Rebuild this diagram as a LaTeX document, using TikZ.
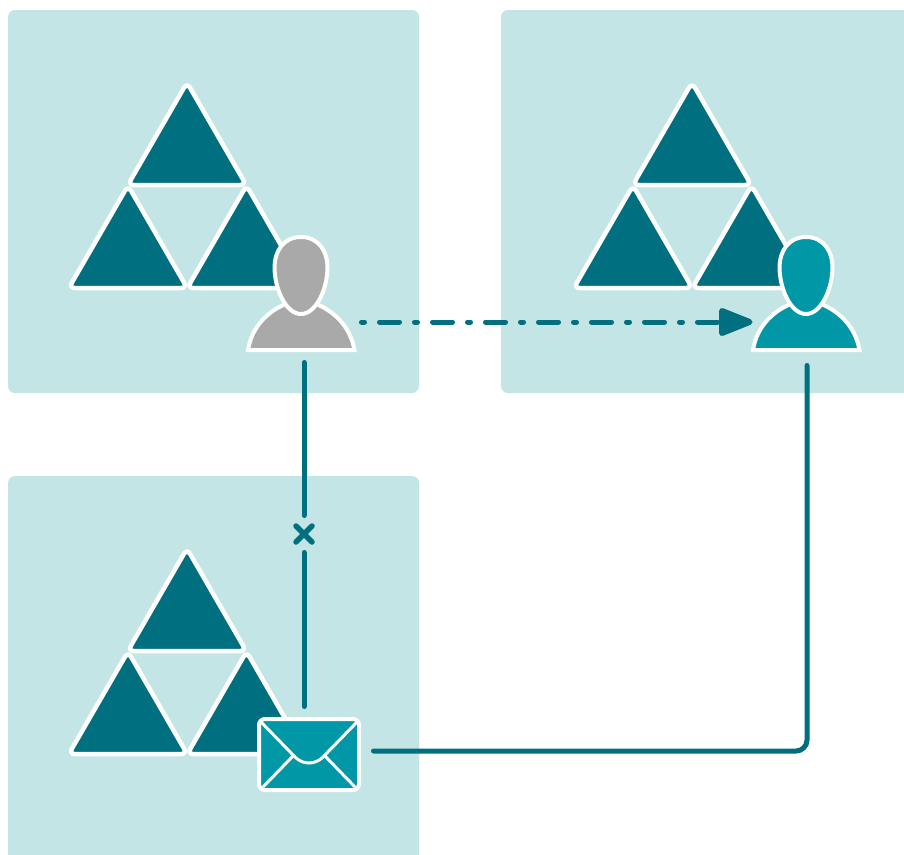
\documentclass[tikz,border=0pt]{standalone}
\definecolor{panel}{HTML}{C4E5E5}
\definecolor{deep}{HTML}{006F7F}
\definecolor{bright}{HTML}{0097A7}
\definecolor{greyuser}{HTML}{A9A9A9}
\tikzset{
  panelbox/.style={fill=panel,rounded corners=7pt,draw=none},
  tri/.style={fill=deep,draw=white,line width=4.5pt,line join=round,rounded corners=6pt},
  usershape/.style={draw=white,line width=4pt,line join=miter},
  link/.style={draw=deep,line width=5pt,line cap=round},
  anchorbox/.style={inner sep=0pt,minimum width=#1,minimum height=#1},
  every picture/.style={x=1pt,y=-1pt}
}
\newcommand{\triad}[2]{%
  \begin{scope}[shift={(#1,#2)}]
    \path[tri] (187,82.5) -- (246.2,185) -- (127.8,185) -- cycle;
    \path[tri] (128,185.5) -- (187.2,288) -- (68.8,288) -- cycle;
    \path[tri] (246.5,185.5) -- (305.7,288) -- (187.3,288) -- cycle;
  \end{scope}}
\newcommand{\usericon}[3]{%
  \begin{scope}[shift={(#1,#2)}]
    \path[usershape,fill=#3] (248,350) .. controls (252,325) and (270,309) .. (291,302)
       -- (311,302) .. controls (332,309) and (350,325) .. (354.5,350) -- cycle;
    \path[usershape,fill=#3] (301,237) .. controls (319,237) and (327.5,252) .. (327.5,267)
       .. controls (327.5,289) and (316,314) .. (301,314)
       .. controls (286,314) and (274.5,289) .. (274.5,267)
       .. controls (274.5,252) and (283,237) .. (301,237) -- cycle;
  \end{scope}}
\begin{document}
\begin{tikzpicture}
\useasboundingbox (0,0) rectangle (904,854);
\fill[white] (0,0) rectangle (904,854);
\begin{scope}
\clip (0,0) rectangle (904,854);
\path[panelbox] (8,10) rectangle (419,393);
\path[panelbox] (501,10) rectangle (930,393);
\path[panelbox] (8,476) rectangle (419,880);
\end{scope}
\triad{0}{0}
\triad{505}{0}
\triad{0}{466}
\usericon{0}{0}{greyuser}
\usericon{505}{0}{bright}
% mail
\path[draw=white,fill=bright,line width=4pt,rounded corners=6pt] (259,719) rectangle (359,790);
\draw[white,line width=3pt,line join=round] (261,722) -- (295,757) .. controls (303,765) and (315,765) .. (323,757) -- (357,722);
\draw[white,line width=3pt] (263,787) -- (294,755);
\draw[white,line width=3pt] (355,787) -- (324,755);
% named connector ends
\node[anchorbox=0pt] (sender) at (304,362.5) {};
\node[anchorbox=0pt] (cross) at (304,534) {};
\node[anchorbox=0pt] (mailtop) at (304,706.5) {};
\node[anchorbox=0pt] (mailright) at (373.5,751) {};
\node[anchorbox=0pt] (receiver) at (807,365.5) {};
\node[anchorbox=0pt] (sendright) at (361.5,322) {};
\node[anchorbox=0pt] (recvleft) at (717.5,322) {};
\coordinate (corner) at (807,751);
\draw[link] (sender.center) -- ([yshift=18.5pt]cross.center);
\draw[link] ([yshift=-18.5pt]cross.center) -- (mailtop.center);
\draw[link,line width=5.5pt] ([shift={(-8,-8)}]cross.center) -- ([shift={(8,8)}]cross.center);
\draw[link,line width=5.5pt] ([shift={(-8,8)}]cross.center) -- ([shift={(8,-8)}]cross.center);
\draw[link,rounded corners=11pt] (mailright.center) -- (corner) -- (receiver.center);
\draw[link,dash pattern=on 3pt off 15pt on 20pt off 15pt] (sendright.center) -- (recvleft.center);
\path[draw=deep,fill=deep,line width=6pt,line join=round] (722,311) -- (749.5,322) -- (722,333) -- cycle;
\end{tikzpicture}
\end{document}
